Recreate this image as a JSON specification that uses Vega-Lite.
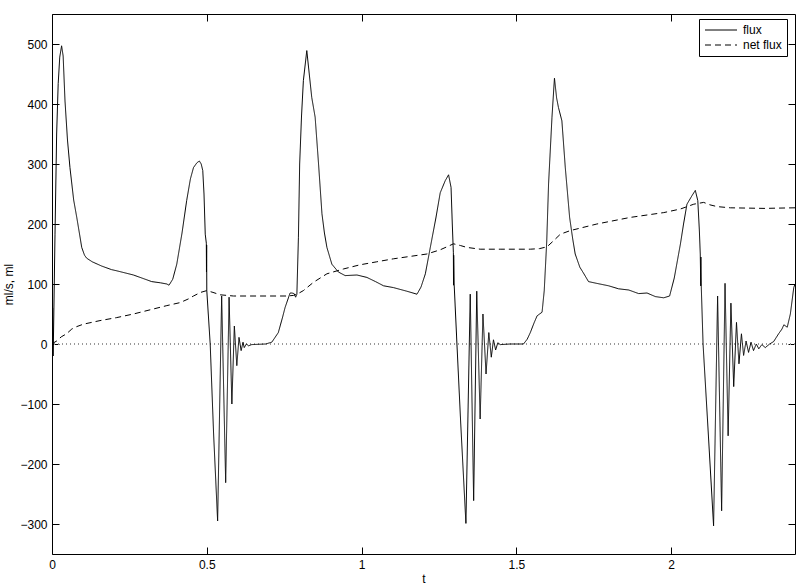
{
 "$schema": "https://vega.github.io/schema/vega-lite/v6.json",
 "width": 743, "height": 540,
 "autosize": {"type": "none"},
 "padding": {"left": 52, "top": 14, "right": 8, "bottom": 34},
 "background": "white",
 "config": {
  "font": "Liberation Sans",
  "view": {"stroke": "black", "strokeWidth": 1},
  "axis": {"domain": false, "grid": false, "tickColor": "black", "tickSize": -7, "tickWidth": 1,
   "labelColor": "black", "labelFontSize": 12, "labelFont": "Liberation Sans",
   "titleFont": "Liberation Sans", "titleFontSize": 12, "titleFontWeight": "normal", "titleColor": "black",
   "labelFlush": false, "labelOverlap": false, "labelPadding": 12},
  "legend": {"labelFontSize": 12, "labelFont": "Liberation Sans"}
 },
 "data": {"values": [
  {"t":0,"v":0,"s":"flux"},{"t":0.002,"v":60,"s":"flux"},{"t":0.0035,"v":-20,"s":"flux"},{"t":0.005,"v":20,"s":"flux"},{"t":0.007,"v":90,"s":"flux"},{"t":0.0097,"v":183,"s":"flux"},{"t":0.015,"v":350,"s":"flux"},{"t":0.02,"v":434,"s":"flux"},{"t":0.025,"v":478,"s":"flux"},{"t":0.031,"v":497,"s":"flux"},{"t":0.036,"v":480,"s":"flux"},{"t":0.042,"v":405,"s":"flux"},{"t":0.05,"v":340,"s":"flux"},{"t":0.058,"v":294,"s":"flux"},{"t":0.07,"v":240,"s":"flux"},{"t":0.08,"v":211,"s":"flux"},{"t":0.09,"v":180,"s":"flux"},{"t":0.096,"v":161,"s":"flux"},{"t":0.105,"v":148,"s":"flux"},{"t":0.112,"v":143,"s":"flux"},{"t":0.13,"v":137,"s":"flux"},{"t":0.16,"v":130,"s":"flux"},{"t":0.192,"v":124,"s":"flux"},{"t":0.209,"v":122,"s":"flux"},{"t":0.24,"v":118,"s":"flux"},{"t":0.263,"v":115,"s":"flux"},{"t":0.29,"v":110,"s":"flux"},{"t":0.322,"v":104,"s":"flux"},{"t":0.35,"v":102,"s":"flux"},{"t":0.371,"v":100,"s":"flux"},{"t":0.378,"v":98,"s":"flux"},{"t":0.39,"v":108,"s":"flux"},{"t":0.403,"v":133,"s":"flux"},{"t":0.42,"v":185,"s":"flux"},{"t":0.435,"v":239,"s":"flux"},{"t":0.447,"v":275,"s":"flux"},{"t":0.457,"v":294,"s":"flux"},{"t":0.468,"v":302,"s":"flux"},{"t":0.476,"v":305,"s":"flux"},{"t":0.482,"v":300,"s":"flux"},{"t":0.487,"v":289,"s":"flux"},{"t":0.491,"v":250,"s":"flux"},{"t":0.495,"v":183,"s":"flux"},{"t":0.4985,"v":168,"s":"flux"},{"t":0.499,"v":120,"s":"flux"},{"t":0.4995,"v":165,"s":"flux"},{"t":0.5,"v":89,"s":"flux"},{"t":0.511,"v":0,"s":"flux"},{"t":0.522,"v":-150,"s":"flux"},{"t":0.535,"v":-295,"s":"flux"},{"t":0.548,"v":80,"s":"flux"},{"t":0.561,"v":-231,"s":"flux"},{"t":0.572,"v":78,"s":"flux"},{"t":0.581,"v":-100,"s":"flux"},{"t":0.589,"v":30,"s":"flux"},{"t":0.597,"v":-36,"s":"flux"},{"t":0.604,"v":11,"s":"flux"},{"t":0.611,"v":-11,"s":"flux"},{"t":0.617,"v":3,"s":"flux"},{"t":0.621,"v":-6,"s":"flux"},{"t":0.628,"v":0,"s":"flux"},{"t":0.635,"v":-3,"s":"flux"},{"t":0.645,"v":-1,"s":"flux"},{"t":0.69,"v":0,"s":"flux"},{"t":0.71,"v":3,"s":"flux"},{"t":0.731,"v":19,"s":"flux"},{"t":0.745,"v":45,"s":"flux"},{"t":0.753,"v":61,"s":"flux"},{"t":0.769,"v":85,"s":"flux"},{"t":0.775,"v":85,"s":"flux"},{"t":0.782,"v":84,"s":"flux"},{"t":0.787,"v":78,"s":"flux"},{"t":0.791,"v":83,"s":"flux"},{"t":0.796,"v":178,"s":"flux"},{"t":0.8,"v":300,"s":"flux"},{"t":0.806,"v":380,"s":"flux"},{"t":0.812,"v":439,"s":"flux"},{"t":0.823,"v":489,"s":"flux"},{"t":0.831,"v":450,"s":"flux"},{"t":0.839,"v":411,"s":"flux"},{"t":0.85,"v":378,"s":"flux"},{"t":0.861,"v":300,"s":"flux"},{"t":0.872,"v":217,"s":"flux"},{"t":0.88,"v":185,"s":"flux"},{"t":0.888,"v":161,"s":"flux"},{"t":0.904,"v":133,"s":"flux"},{"t":0.925,"v":120,"s":"flux"},{"t":0.947,"v":114,"s":"flux"},{"t":0.985,"v":115,"s":"flux"},{"t":1.017,"v":111,"s":"flux"},{"t":1.045,"v":104,"s":"flux"},{"t":1.071,"v":97,"s":"flux"},{"t":1.103,"v":94,"s":"flux"},{"t":1.146,"v":88,"s":"flux"},{"t":1.179,"v":83,"s":"flux"},{"t":1.192,"v":95,"s":"flux"},{"t":1.206,"v":117,"s":"flux"},{"t":1.222,"v":161,"s":"flux"},{"t":1.24,"v":210,"s":"flux"},{"t":1.254,"v":252,"s":"flux"},{"t":1.27,"v":272,"s":"flux"},{"t":1.281,"v":282,"s":"flux"},{"t":1.289,"v":261,"s":"flux"},{"t":1.293,"v":200,"s":"flux"},{"t":1.2965,"v":152,"s":"flux"},{"t":1.297,"v":98,"s":"flux"},{"t":1.2975,"v":148,"s":"flux"},{"t":1.299,"v":100,"s":"flux"},{"t":1.308,"v":0,"s":"flux"},{"t":1.32,"v":-130,"s":"flux"},{"t":1.337,"v":-299,"s":"flux"},{"t":1.351,"v":83,"s":"flux"},{"t":1.362,"v":-261,"s":"flux"},{"t":1.372,"v":88,"s":"flux"},{"t":1.383,"v":-125,"s":"flux"},{"t":1.392,"v":50,"s":"flux"},{"t":1.402,"v":-50,"s":"flux"},{"t":1.411,"v":19,"s":"flux"},{"t":1.419,"v":-22,"s":"flux"},{"t":1.426,"v":7,"s":"flux"},{"t":1.433,"v":-10,"s":"flux"},{"t":1.44,"v":2,"s":"flux"},{"t":1.448,"v":-1,"s":"flux"},{"t":1.48,"v":0,"s":"flux"},{"t":1.523,"v":0,"s":"flux"},{"t":1.535,"v":8,"s":"flux"},{"t":1.545,"v":19,"s":"flux"},{"t":1.557,"v":35,"s":"flux"},{"t":1.567,"v":47,"s":"flux"},{"t":1.583,"v":53,"s":"flux"},{"t":1.59,"v":89,"s":"flux"},{"t":1.598,"v":170,"s":"flux"},{"t":1.604,"v":267,"s":"flux"},{"t":1.615,"v":378,"s":"flux"},{"t":1.623,"v":443,"s":"flux"},{"t":1.63,"v":410,"s":"flux"},{"t":1.636,"v":394,"s":"flux"},{"t":1.647,"v":372,"s":"flux"},{"t":1.658,"v":294,"s":"flux"},{"t":1.672,"v":211,"s":"flux"},{"t":1.682,"v":175,"s":"flux"},{"t":1.69,"v":150,"s":"flux"},{"t":1.705,"v":128,"s":"flux"},{"t":1.717,"v":118,"s":"flux"},{"t":1.733,"v":104,"s":"flux"},{"t":1.76,"v":101,"s":"flux"},{"t":1.798,"v":97,"s":"flux"},{"t":1.83,"v":92,"s":"flux"},{"t":1.863,"v":90,"s":"flux"},{"t":1.895,"v":84,"s":"flux"},{"t":1.922,"v":85,"s":"flux"},{"t":1.949,"v":79,"s":"flux"},{"t":1.976,"v":77,"s":"flux"},{"t":1.995,"v":80,"s":"flux"},{"t":2.01,"v":110,"s":"flux"},{"t":2.03,"v":167,"s":"flux"},{"t":2.04,"v":200,"s":"flux"},{"t":2.051,"v":233,"s":"flux"},{"t":2.067,"v":247,"s":"flux"},{"t":2.078,"v":256,"s":"flux"},{"t":2.086,"v":239,"s":"flux"},{"t":2.091,"v":190,"s":"flux"},{"t":2.094,"v":150,"s":"flux"},{"t":2.0955,"v":97,"s":"flux"},{"t":2.096,"v":145,"s":"flux"},{"t":2.097,"v":100,"s":"flux"},{"t":2.103,"v":0,"s":"flux"},{"t":2.12,"v":-150,"s":"flux"},{"t":2.137,"v":-303,"s":"flux"},{"t":2.15,"v":80,"s":"flux"},{"t":2.163,"v":-278,"s":"flux"},{"t":2.174,"v":101,"s":"flux"},{"t":2.184,"v":-153,"s":"flux"},{"t":2.193,"v":68,"s":"flux"},{"t":2.202,"v":-71,"s":"flux"},{"t":2.211,"v":36,"s":"flux"},{"t":2.219,"v":-33,"s":"flux"},{"t":2.227,"v":17,"s":"flux"},{"t":2.234,"v":-19,"s":"flux"},{"t":2.242,"v":5,"s":"flux"},{"t":2.25,"v":-14,"s":"flux"},{"t":2.258,"v":3,"s":"flux"},{"t":2.266,"v":-11,"s":"flux"},{"t":2.275,"v":0,"s":"flux"},{"t":2.283,"v":-8,"s":"flux"},{"t":2.293,"v":-1,"s":"flux"},{"t":2.304,"v":-6,"s":"flux"},{"t":2.318,"v":0,"s":"flux"},{"t":2.331,"v":4,"s":"flux"},{"t":2.347,"v":17,"s":"flux"},{"t":2.358,"v":25,"s":"flux"},{"t":2.364,"v":32,"s":"flux"},{"t":2.375,"v":28,"s":"flux"},{"t":2.385,"v":50,"s":"flux"},{"t":2.396,"v":94,"s":"flux"},{"t":2.4,"v":100,"s":"flux"},
  {"t":0,"v":0,"s":"net flux"},{"t":0.005,"v":2,"s":"net flux"},{"t":0.015,"v":5,"s":"net flux"},{"t":0.03,"v":12,"s":"net flux"},{"t":0.047,"v":17,"s":"net flux"},{"t":0.064,"v":25,"s":"net flux"},{"t":0.08,"v":29,"s":"net flux"},{"t":0.101,"v":33,"s":"net flux"},{"t":0.155,"v":39,"s":"net flux"},{"t":0.209,"v":44,"s":"net flux"},{"t":0.263,"v":50,"s":"net flux"},{"t":0.317,"v":57,"s":"net flux"},{"t":0.371,"v":64,"s":"net flux"},{"t":0.414,"v":69,"s":"net flux"},{"t":0.44,"v":75,"s":"net flux"},{"t":0.457,"v":80,"s":"net flux"},{"t":0.48,"v":86,"s":"net flux"},{"t":0.5,"v":89,"s":"net flux"},{"t":0.52,"v":86,"s":"net flux"},{"t":0.543,"v":82,"s":"net flux"},{"t":0.586,"v":80,"s":"net flux"},{"t":0.7,"v":80,"s":"net flux"},{"t":0.76,"v":80,"s":"net flux"},{"t":0.78,"v":81,"s":"net flux"},{"t":0.795,"v":84,"s":"net flux"},{"t":0.812,"v":89,"s":"net flux"},{"t":0.845,"v":103,"s":"net flux"},{"t":0.888,"v":117,"s":"net flux"},{"t":0.941,"v":125,"s":"net flux"},{"t":0.995,"v":132,"s":"net flux"},{"t":1.049,"v":137,"s":"net flux"},{"t":1.103,"v":142,"s":"net flux"},{"t":1.157,"v":146,"s":"net flux"},{"t":1.211,"v":150,"s":"net flux"},{"t":1.254,"v":157,"s":"net flux"},{"t":1.28,"v":163,"s":"net flux"},{"t":1.297,"v":167,"s":"net flux"},{"t":1.32,"v":164,"s":"net flux"},{"t":1.34,"v":161,"s":"net flux"},{"t":1.383,"v":158,"s":"net flux"},{"t":1.45,"v":158,"s":"net flux"},{"t":1.545,"v":158,"s":"net flux"},{"t":1.575,"v":159,"s":"net flux"},{"t":1.599,"v":162,"s":"net flux"},{"t":1.62,"v":172,"s":"net flux"},{"t":1.642,"v":183,"s":"net flux"},{"t":1.674,"v":189,"s":"net flux"},{"t":1.76,"v":200,"s":"net flux"},{"t":1.868,"v":211,"s":"net flux"},{"t":1.976,"v":219,"s":"net flux"},{"t":2.03,"v":225,"s":"net flux"},{"t":2.073,"v":233,"s":"net flux"},{"t":2.105,"v":236,"s":"net flux"},{"t":2.125,"v":232,"s":"net flux"},{"t":2.148,"v":229,"s":"net flux"},{"t":2.191,"v":227,"s":"net flux"},{"t":2.3,"v":226,"s":"net flux"},{"t":2.4,"v":227,"s":"net flux"}
 ]},
 "layer": [
  {"mark": {"type": "rule", "color": "#999999", "strokeDash": [1, 3], "strokeWidth": 1},
   "encoding": {"y": {"datum": 0, "type": "quantitative", "scale": {"domain": [-350, 550], "nice": false}, "axis": null}}},
  {"mark": {"type": "line", "color": "black", "strokeWidth": 1, "clip": true},
   "encoding": {
    "x": {"field": "t", "type": "quantitative", "scale": {"domain": [0, 2.4], "nice": false, "zero": false},
     "axis": {"orient": "bottom", "values": [0, 0.5, 1, 1.5, 2], "format": "~g", "title": "t", "titlePadding": 3, "labelFontSize": 12, "titleFontSize": 12}},
    "y": {"field": "v", "type": "quantitative", "scale": {"domain": [-350, 550], "nice": false},
     "axis": {"orient": "left", "values": [-300, -200, -100, 0, 100, 200, 300, 400, 500], "format": "d", "title": "ml/s, ml", "titlePadding": 4, "labelFontSize": 12, "titleFontSize": 12}},
    "strokeDash": {"field": "s", "type": "nominal",
     "scale": {"domain": ["flux", "net flux"], "range": [[1, 0], [6, 4]]},
     "legend": {"orient": "none", "legendX": 647, "legendY": 5, "title": null, "strokeColor": "black", "fillColor": "white",
      "padding": 5, "symbolType": "M-1,0H5.4", "symbolSize": 100, "symbolStrokeColor": "black", "symbolStrokeWidth": 1, "symbolFillColor": "transparent",
      "labelFontSize": 12, "labelFont": "Liberation Sans", "labelColor": "black", "labelOffset": 27, "rowPadding": 3, "cornerRadius": 0}}
   }},
  {"mark": {"type": "line", "opacity": 0},
   "encoding": {
    "x": {"field": "t", "type": "quantitative", "axis": {"orient": "top", "values": [0, 0.5, 1, 1.5, 2], "labels": false, "title": null}},
    "y": {"field": "v", "type": "quantitative", "axis": {"orient": "right", "values": [-300, -200, -100, 0, 100, 200, 300, 400, 500], "labels": false, "title": null}},
    "detail": {"field": "s"}
   }}
 ],
 "resolve": {"axis": {"x": "independent", "y": "independent"}}
}
